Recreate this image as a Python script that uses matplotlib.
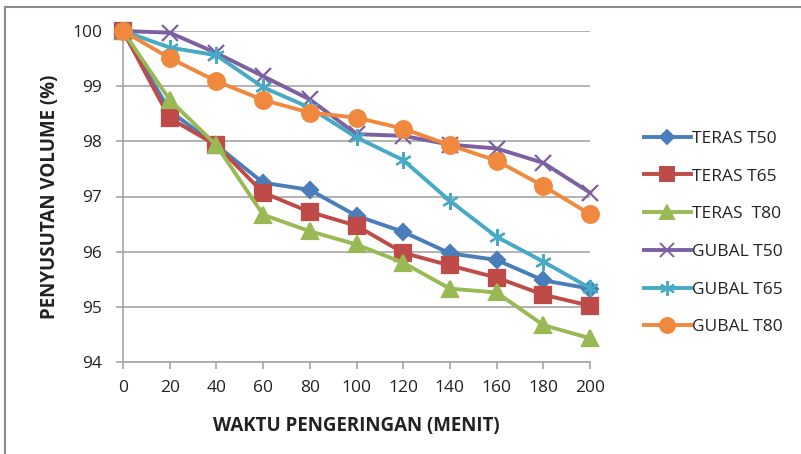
import matplotlib.pyplot as plt
from matplotlib.lines import Line2D

waktu = [0, 20, 40, 60, 80, 100, 120, 140, 160, 180, 200]

teras_t50 = [100, 98.55, 97.93, 97.25, 97.12, 96.65, 96.36, 95.97, 95.85, 95.48, 95.33]
teras_t65 = [100, 98.42, 97.93, 97.07, 96.72, 96.47, 95.98, 95.75, 95.53, 95.22, 95.02]
teras_t80 = [100, 98.75, 97.93, 96.67, 96.37, 96.13, 95.80, 95.33, 95.26, 94.67, 94.43]
gubal_t50 = [100, 99.97, 99.60, 99.18, 98.76, 98.13, 98.10, 97.94, 97.87, 97.61, 97.07]
gubal_t65 = [100, 99.70, 99.56, 98.98, 98.61, 98.07, 97.66, 96.92, 96.27, 95.82, 95.34]
gubal_t80 = [100, 99.51, 99.09, 98.75, 98.52, 98.43, 98.23, 97.93, 97.65, 97.19, 96.68]

labels = ['TERAS T50', 'TERAS T65', 'TERAS  T80', 'GUBAL T50', 'GUBAL T65', 'GUBAL T80']
series = [teras_t50, teras_t65, teras_t80, gubal_t50, gubal_t65, gubal_t80]
colors = ['#4A7EBB', '#BE4B48', '#98B954', '#7D60A0', '#46AAC5', '#F0893E']
markers = ['D', 's', '^', 'x', '*', 'o']
msizes = [8, 11, 11, 11, 12, 12]

plt.rcParams['font.family'] = ['Open Sans', 'DejaVu Sans']

fig = plt.figure(figsize=(8.01, 4.54), dpi=100)
ax = fig.add_axes([123 / 801, 1 - 362 / 454, (590 - 123) / 801, (362 - 31) / 454])

for y, lab, c, m, ms in zip(series, labels, colors, markers, msizes):
    mk = (6, 2, 0) if m == '*' else m  # thin asterisk like Excel
    ax.plot(waktu, y, color=c, lw=2.8, marker=mk, ms=ms, mew=1.6,
            mfc=c, mec=c, label=lab, clip_on=False, zorder=3)

ax.set_xlim(0, 200)
ax.set_ylim(94, 100)
ax.set_xticks(waktu)
ax.set_yticks(range(94, 101))
ax.grid(axis='y', color='#A6A6A6', lw=1.2)
ax.set_axisbelow(True)
for s in ['top', 'right']:
    ax.spines[s].set_visible(False)
for s in ['left', 'bottom']:
    ax.spines[s].set_color('#A6A6A6')
    ax.spines[s].set_linewidth(1.2)
ax.tick_params(axis='both', colors='#A6A6A6', labelcolor='#222222',
               labelsize=12.5, length=5, width=1.2)
ax.tick_params(axis='x', pad=8)
ax.tick_params(axis='y', pad=10)

ax.set_xlabel('WAKTU PENGERINGAN (MENIT)', fontsize=13.5, fontweight='bold',
              color='#222222', labelpad=14)
ax.set_ylabel('PENYUSUTAN VOLUME (%)', fontsize=13.5, fontweight='bold',
              color='#222222', labelpad=9)

handles = []
for lab, c, m, ms in zip(labels, colors, markers, msizes):
    mk = (6, 2, 0) if m == '*' else m
    handles.append(Line2D([0], [0], color=c, lw=2.8, marker=mk, ms=ms * 0.9,
                          mew=1.4, mfc=c, mec=c, label=lab))
fig.legend(handles=handles, loc='center left', bbox_to_anchor=(628 / 801, 1 - 233 / 454),
           frameon=False, fontsize=12.5, handlelength=2.7, handletextpad=0.1,
           labelspacing=1.24, labelcolor='#222222')

# chart frame (top and left edges visible in the reference)
fig.add_artist(Line2D([5 / 801, 5 / 801], [0, 1 - 7 / 454], transform=fig.transFigure,
                      color='#8C8C8C', lw=1.5))
fig.add_artist(Line2D([5 / 801, 1], [1 - 7 / 454, 1 - 7 / 454], transform=fig.transFigure,
                      color='#8C8C8C', lw=1.5))

fig.savefig('out.png', dpi=100)
